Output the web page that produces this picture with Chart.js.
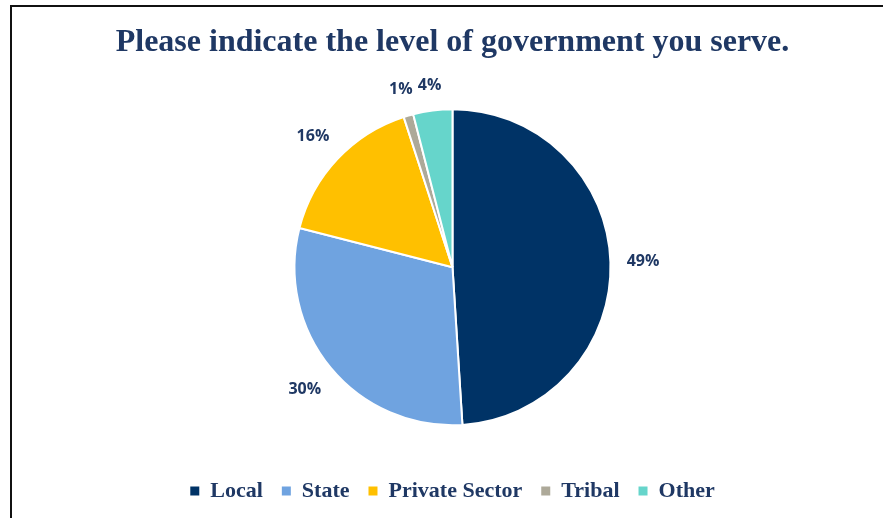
<!DOCTYPE html>
<html>
<head>
<meta charset="utf-8">
<script src="https://cdn.jsdelivr.net/npm/chart.js@4"></script>
<style>
  body { margin: 0; background: #fff; }
  #frame { position: absolute; left: 10px; top: 5px; width: 900px; height: 600px; border: 2px solid #111; }
  #myChart { position: absolute; left: 0; top: 0; }
</style>
</head>
<body>
<div id="frame"></div>
<canvas id="myChart" width="883" height="518"></canvas>
<script>
// Dados do gráfico
const categorias = ['Local', 'State', 'Private Sector', 'Tribal', 'Other'];
const percentuais = [49, 30, 16, 1, 4];
const cores = ['#003366', '#6FA3E0', '#FFC000', '#ADA999', '#66D5CB'];

const navy = '#1F3864';

// Rótulos de percentual fora das fatias
const rotulosFora = {
  id: 'rotulosFora',
  afterDatasetsDraw(chart) {
    const ctx = chart.ctx;
    const meta = chart.getDatasetMeta(0);
    ctx.save();
    ctx.font = 'bold 16px "Open Sans"';
    ctx.fillStyle = navy;
    ctx.textAlign = 'center';
    ctx.textBaseline = 'middle';
    meta.data.forEach(function(arc, i) {
      const p = arc.getProps(['x', 'y', 'startAngle', 'endAngle', 'outerRadius'], true);
      const ang = (p.startAngle + p.endAngle) / 2;
      const texto = percentuais[i] + '%';
      const w = ctx.measureText(texto).width;
      const r = p.outerRadius + 16 + Math.abs(Math.cos(ang)) * w / 2 + Math.abs(Math.sin(ang)) * 8;
      ctx.fillText(texto, p.x + Math.cos(ang) * r, p.y + Math.sin(ang) * r);
    });
    ctx.restore();
  }
};

const ctx = document.getElementById('myChart').getContext('2d');
const grafico = new Chart(ctx, {
  type: 'pie',
  data: {
    labels: categorias,
    datasets: [{
      data: percentuais,
      backgroundColor: cores,
      borderColor: '#ffffff',
      borderWidth: 2,
      radius: 158
    }]
  },
  options: {
    responsive: false,
    animation: false,
    layout: { padding: { left: 22, right: 0, top: 4, bottom: 6 } },
    plugins: {
      title: {
        display: true,
        text: 'Please indicate the level of government you serve.',
        color: navy,
        font: { family: '"Liberation Serif", "Times New Roman", serif', size: 32, weight: 'bold' },
        padding: { top: 20, bottom: 11 }
      },
      legend: {
        position: 'bottom',
        labels: {
          color: navy,
          font: { family: '"Liberation Serif", "Times New Roman", serif', size: 22, weight: 'bold' },
          boxWidth: 9,
          boxHeight: 9,
          padding: 19,
          generateLabels: function(chart) {
            const itens = Chart.overrides.pie.plugins.legend.labels.generateLabels(chart);
            itens.forEach(function(it) { it.lineWidth = 0; it.strokeStyle = 'rgba(0,0,0,0)'; });
            return itens;
          }
        }
      },
      tooltip: { enabled: false }
    }
  },
  plugins: [rotulosFora]
});
</script>
</body>
</html>
